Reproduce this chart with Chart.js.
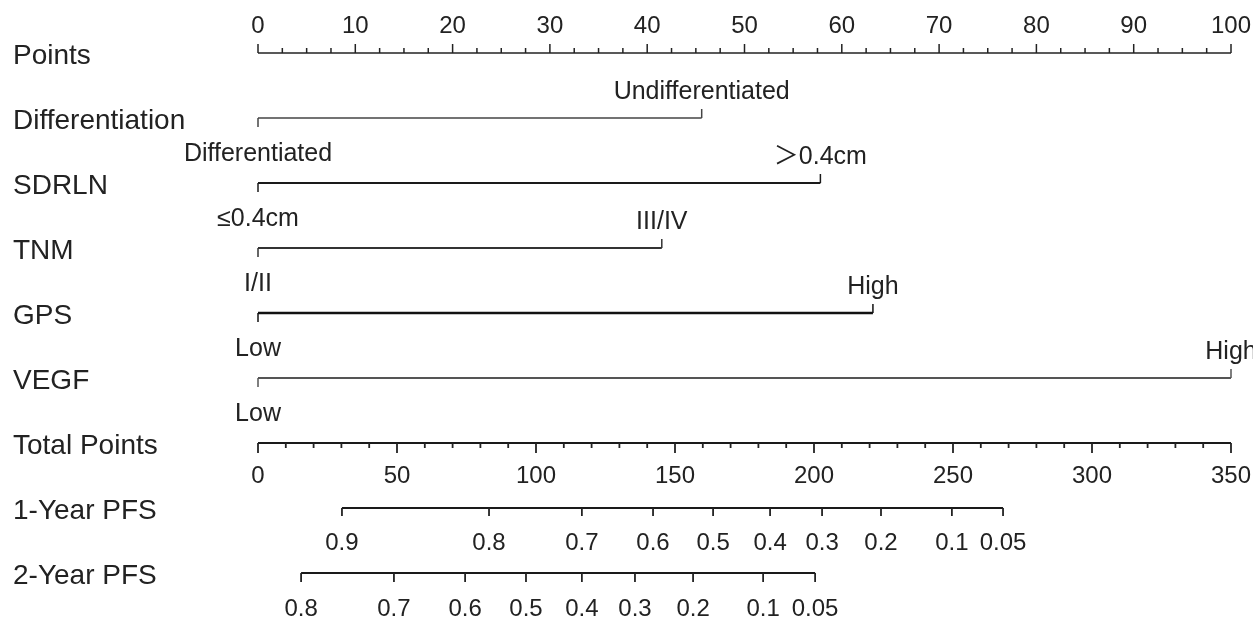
<!DOCTYPE html>
<html>
<head>
<meta charset="utf-8">
<script src="https://cdn.jsdelivr.net/npm/chart.js@4/dist/chart.umd.min.js"></script>
<style>
  html, body { margin: 0; padding: 0; background: #ffffff; }
  #wrap { width: 1253px; height: 618px; }
</style>
</head>
<body>
<div id="wrap"><canvas id="c" width="1253" height="618"></canvas></div>
<script>
// ---------------- DATA ----------------
const rowNames = ['Points', 'Differentiation', 'SDRLN', 'TNM', 'GPS', 'VEGF', 'Total Points', '1-Year PFS', '2-Year PFS'];

// Points axis (0-100)
const pointsMajor = [0, 10, 20, 30, 40, 50, 60, 70, 80, 90, 100];
const pointsMinorStep = 2.5;

// Predictor rows: level labels and their point values
const varNames  = ['Differentiation', 'SDRLN', 'TNM', 'GPS', 'VEGF'];
const varLow    = ['Differentiated', '\u22640.4cm', 'I/II', 'Low', 'Low'];
const varHigh   = ['Undifferentiated', '\uFF1E0.4cm', 'III/IV', 'High', 'High'];
const varLowPts = [0, 0, 0, 0, 0];
const varHighPts = [45.6, 57.8, 41.5, 63.2, 100];

// Total points axis (0-350)
const totalMajor = [0, 50, 100, 150, 200, 250, 300, 350];
const totalMinorStep = 10;

// Survival probability scales (label, position on total-points scale)
const pfs1Labels = ['0.9', '0.8', '0.7', '0.6', '0.5', '0.4', '0.3', '0.2', '0.1', '0.05'];
const pfs1Total  = [30.2, 83.1, 116.5, 142.1, 163.7, 184.2, 202.9, 224.1, 249.6, 268.0];
const pfs2Labels = ['0.8', '0.7', '0.6', '0.5', '0.4', '0.3', '0.2', '0.1', '0.05'];
const pfs2Total  = [15.5, 48.9, 74.5, 96.4, 116.5, 135.6, 156.5, 181.7, 200.4];

// ---------------- STYLE ----------------
const TEXT = '#222222';
const FONT = '"Liberation Sans", Arial, Helvetica, "Noto Sans CJK SC", sans-serif';
const varWidths = [1.5, 2.2, 1.8, 2.6, 1.8];
const varColors = ['#444444', '#1a1a1a', '#333333', '#111111', '#555555'];

// ---------------- DATASETS ----------------
function seg(x0, x1, row, axis, color, width) {
  return {
    data: [{ x: x0, y: row }, { x: x1, y: row }],
    xAxisID: axis, yAxisID: 'y',
    showLine: true, borderColor: color, borderWidth: width,
    pointRadius: 0, pointHoverRadius: 0, clip: false, borderCapStyle: 'butt'
  };
}
const datasets = [];
datasets.push(seg(pointsMajor[0], pointsMajor[pointsMajor.length - 1], 0, 'x', '#222222', 1.5));
varNames.forEach((n, i) => datasets.push(seg(varLowPts[i], varHighPts[i], i + 1, 'x', varColors[i], varWidths[i])));
datasets.push(seg(totalMajor[0], totalMajor[totalMajor.length - 1], 6, 'xt', '#1a1a1a', 2.2));
datasets.push(seg(pfs1Total[0], pfs1Total[pfs1Total.length - 1], 7, 'xt', '#1a1a1a', 2.2));
datasets.push(seg(pfs2Total[0], pfs2Total[pfs2Total.length - 1], 8, 'xt', '#1a1a1a', 2.2));

// ---------------- PLUGIN: ticks & value labels ----------------
const nomoPlugin = {
  id: 'nomo',
  afterDatasetsDraw(chart) {
    const ctx = chart.ctx;
    const xs = chart.scales.x, xt = chart.scales.xt, ys = chart.scales.y;
    ctx.save();
    ctx.lineCap = 'butt';
    function tick(px, py, len, w, col) {
      ctx.strokeStyle = col || '#222222';
      ctx.lineWidth = w || 1.5;
      ctx.beginPath(); ctx.moveTo(px, py); ctx.lineTo(px, py + len); ctx.stroke();
    }
    ctx.fillStyle = TEXT;
    ctx.textAlign = 'center';
    ctx.textBaseline = 'alphabetic';
    const NUMFONT = '24px ' + FONT;
    const LVLFONT = '25px ' + FONT;
    function label(t, px, py, f) {
      ctx.font = f || NUMFONT;
      if (t.charAt(0) === '\uFF1E') {
        // full-width ">" rendered with a CJK face, rest with the Latin face
        ctx.font = '25px "Noto Sans CJK SC", sans-serif';
        const w1 = ctx.measureText(t.charAt(0)).width;
        ctx.font = f || NUMFONT;
        const rest = t.slice(1);
        const w2 = ctx.measureText(rest).width;
        const left = px - (w1 + w2) / 2;
        ctx.textAlign = 'left';
        ctx.font = '25px "Noto Sans CJK SC", sans-serif';
        ctx.fillText(t.charAt(0), left, py);
        ctx.font = f || NUMFONT;
        ctx.fillText(rest, left + w1, py);
        ctx.textAlign = 'center';
        return;
      }
      ctx.fillText(t, px, py);
    }

    // Points axis
    const y0 = ys.getPixelForValue(0);
    const pMax = pointsMajor[pointsMajor.length - 1];
    for (let v = pointsMajor[0]; v <= pMax + 1e-9; v += pointsMinorStep) {
      const major = Math.abs(v % 10) < 1e-9;
      tick(xs.getPixelForValue(v), y0, major ? -9 : -5, 1.5);
    }
    pointsMajor.forEach(v => label(String(v), xs.getPixelForValue(v), y0 - 20));

    // Predictors
    varNames.forEach((n, i) => {
      const yy = ys.getPixelForValue(i + 1);
      const xa = xs.getPixelForValue(varLowPts[i]);
      const xb = xs.getPixelForValue(varHighPts[i]);
      tick(xa, yy, 9, 1.5, varColors[i]);
      tick(xb, yy, -9, 1.5, varColors[i]);
      label(varLow[i], xa, yy + 43, LVLFONT);
      label(varHigh[i], xb, yy - 19, LVLFONT);
    });

    // Total points
    const y6 = ys.getPixelForValue(6);
    const tMax = totalMajor[totalMajor.length - 1];
    for (let v = totalMajor[0]; v <= tMax + 1e-9; v += totalMinorStep) {
      const major = Math.abs(v % 50) < 1e-9;
      tick(xt.getPixelForValue(v), y6, major ? 10 : 5, 1.8);
    }
    totalMajor.forEach(v => label(String(v), xt.getPixelForValue(v), y6 + 40));

    // PFS rows
    const y7 = ys.getPixelForValue(7);
    pfs1Total.forEach((v, i) => { const px = xt.getPixelForValue(v); tick(px, y7, 8, 1.8); label(pfs1Labels[i], px, y7 + 42); });
    const y8 = ys.getPixelForValue(8);
    pfs2Total.forEach((v, i) => { const px = xt.getPixelForValue(v); tick(px, y8, 9, 1.8); label(pfs2Labels[i], px, y8 + 43); });

    ctx.restore();
  }
};

new Chart(document.getElementById('c'), {
  type: 'scatter',
  data: { datasets },
  options: {
    responsive: false,
    animation: false,
    devicePixelRatio: 1,
    events: [],
    layout: { padding: { left: 13, right: 22, top: 53, bottom: 45 } },
    plugins: { legend: { display: false }, tooltip: { enabled: false } },
    scales: {
      x:  { type: 'linear', axis: 'x', position: 'bottom', min: 0, max: 100, display: false },
      xt: { type: 'linear', axis: 'x', position: 'bottom', min: 0, max: 350, display: false },
      y: {
        type: 'linear', position: 'left', min: 0, max: rowNames.length - 1, reverse: true,
        grid: { display: false, drawTicks: false },
        border: { display: false },
        ticks: {
          stepSize: 1, autoSkip: false, crossAlign: 'far', padding: 0, labelOffset: 3,
          color: TEXT, font: { family: FONT, size: 28 },
          callback: (v) => rowNames[v]
        },
        afterFit: (s) => { s.width = 245; }
      }
    }
  },
  plugins: [nomoPlugin]
});
</script>
</body>
</html>
